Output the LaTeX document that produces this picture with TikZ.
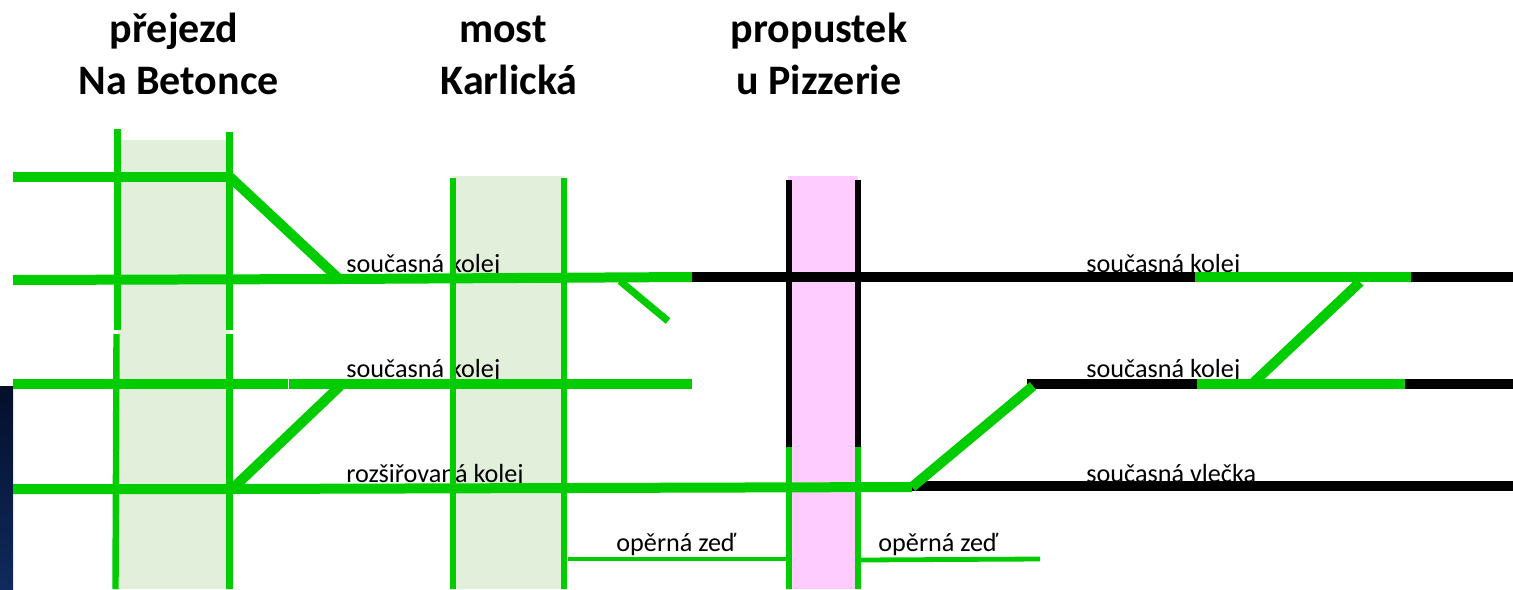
\documentclass[tikz,border=0pt]{standalone}
\usepackage{fontspec}
\setmainfont{Carlito}
\definecolor{trackgreen}{HTML}{00CC00}
\definecolor{bandgreen}{HTML}{E2EFDA}
\definecolor{bandpink}{HTML}{FFCCFF}
\definecolor{phototop}{HTML}{050F2B}
\definecolor{photobottom}{HTML}{0F2A5C}
\tikzset{
  track/.style={line width=5pt, draw=trackgreen},
  oldtrack/.style={line width=5pt, draw=black},
  edge/.style={line width=3.2pt, draw=trackgreen},
  wall/.style={line width=2.4pt, draw=trackgreen},
  tracklabel/.style={anchor=base west, inner sep=0pt, font=\fontsize{13.1}{15}\selectfont},
  headline/.style={anchor=base, inner sep=0pt, font=\fontsize{21}{24}\selectfont\bfseries}
}
\begin{document}
\begin{tikzpicture}[x=0.5pt,y=-0.5pt]
\useasboundingbox (0,0) rectangle (1513,589);
% backgrounds
\shade [top color=phototop, bottom color=photobottom] (0,386) rectangle (13,589);
\fill [bandgreen] (118,140) rectangle (230,589);
\fill [bandgreen] (453,176) rectangle (564,589);
\fill [bandpink] (788,176) rectangle (858,589);
% headings
\node [headline] (prejezd) at (174,42.5) {přejezd};
\node [headline] (betonce) at (178.5,94.5) {Na Betonce};
\node [headline] (most) at (503,42.5) {most};
\node [headline] (karlicka) at (509,94.5) {Karlická};
\node [headline] (propustek) at (819,42.5) {propustek};
\node [headline] (pizzerie) at (819,94.5) {u Pizzerie};
% labels, the tracks go over them
\node [tracklabel] (kolejA) at (346,272) {současná kolej};
\node [tracklabel] (kolejB) at (346,377) {současná kolej};
\node [tracklabel] (kolejC) at (346,482) {rozšiřovaná kolej};
\node [tracklabel] (kolejD) at (1086,272) {současná kolej};
\node [tracklabel] (kolejE) at (1086,377) {současná kolej};
\node [tracklabel] (vlecka) at (1086,482) {současná vlečka};
\node [tracklabel] (zedA) at (616,551) {opěrná zeď};
\node [tracklabel] (zedB) at (878,551) {opěrná zeď};
% verticals
\draw [edge] (117.5,129)--(117.5,330);
\draw [edge] (116.5,334)--(115.5,589);
\draw [edge] (229.5,132)--(229.5,330);
\draw [edge] (229.5,334)--(229.5,589);
\draw [edge] (453,178)--(453,589);
\draw [edge] (564,178)--(564,589);
\draw [edge, draw=black] (789,180)--(789,447);
\draw [edge, draw=black] (858,180)--(858,447);
\draw [edge] (789,447)--(789,589);
\draw [edge] (858,447)--(858,589);
% tracks
\draw [track] (13,177)--(230,177);
\draw [track] (230,177)--(338,278);
\draw [track] (13,280)--(340,279)--(692,277);
\draw [oldtrack] (692,277)--(1195,277);
\draw [track] (1195,277)--(1411,277);
\draw [oldtrack] (1411,277)--(1513,277);
\draw [track, line width=3.6pt] (620,281)--(668,321);
\draw [track] (13,384)--(288,384);
\draw [track] (289,384)--(692,384);
\draw [oldtrack] (1027,384)--(1197,384);
\draw [track] (1197,384)--(1405,384);
\draw [oldtrack] (1405,384)--(1513,384);
\draw [track] (232,489)--(340,386);
\draw [track] (13,489)--(232,489)--(912,487);
\draw [oldtrack] (912,486)--(1513,486);
\draw [track] (912,487)--(1033,386);
\draw [track] (1252,384)--(1360,282);
% walls
\draw [wall] (568,559)--(788,559);
\draw [wall] (860,560)--(1040,559);
\end{tikzpicture}
\end{document}
